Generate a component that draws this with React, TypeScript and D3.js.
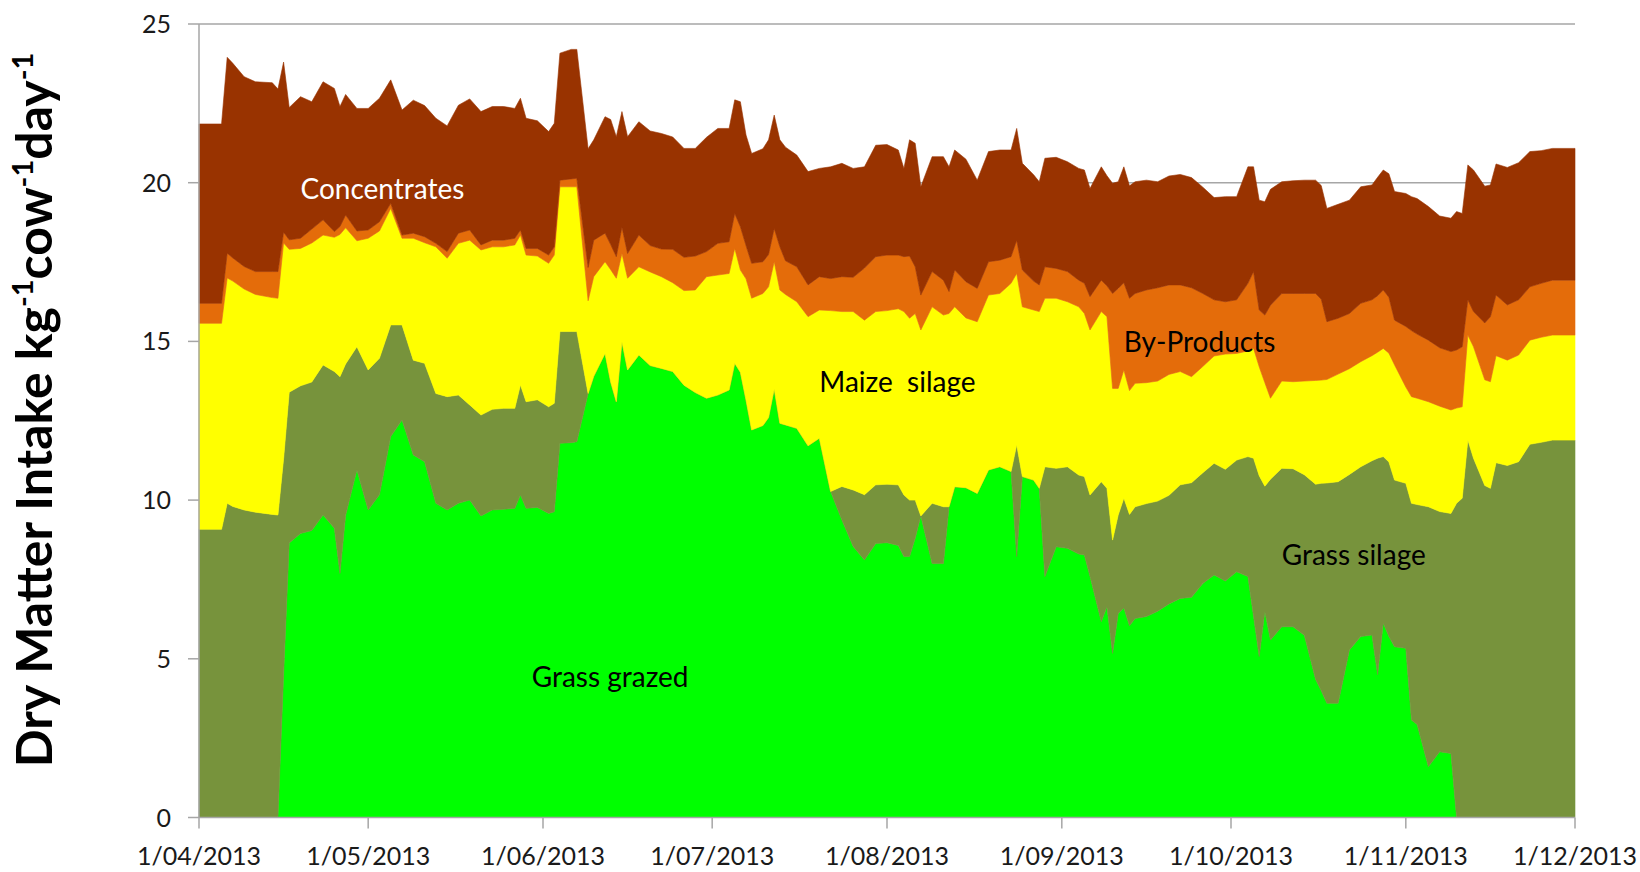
import React from 'react';
import * as d3 from 'd3';

// sampled days (Apr - Dec 2013)
const dates = [
  '2013-04-01', '2013-04-05', '2013-04-06', '2013-04-07', '2013-04-09', '2013-04-11', '2013-04-14', '2013-04-15', '2013-04-16', '2013-04-17',
  '2013-04-19', '2013-04-21', '2013-04-23', '2013-04-25', '2013-04-26', '2013-04-27', '2013-04-29', '2013-05-01', '2013-05-03', '2013-05-05',
  '2013-05-07', '2013-05-09', '2013-05-11', '2013-05-13', '2013-05-15', '2013-05-17', '2013-05-19', '2013-05-21', '2013-05-23', '2013-05-25',
  '2013-05-27', '2013-05-28', '2013-05-29', '2013-05-31', '2013-06-02', '2013-06-03', '2013-06-04', '2013-06-06', '2013-06-07', '2013-06-09',
  '2013-06-10', '2013-06-12', '2013-06-13', '2013-06-14', '2013-06-15', '2013-06-16', '2013-06-18', '2013-06-20', '2013-06-22', '2013-06-24',
  '2013-06-26', '2013-06-28', '2013-06-30', '2013-07-02', '2013-07-04', '2013-07-05', '2013-07-06', '2013-07-07', '2013-07-08', '2013-07-10',
  '2013-07-11', '2013-07-12', '2013-07-13', '2013-07-14', '2013-07-16', '2013-07-18', '2013-07-20', '2013-07-22', '2013-07-24', '2013-07-26',
  '2013-07-28', '2013-07-30', '2013-08-01', '2013-08-03', '2013-08-04', '2013-08-05', '2013-08-06', '2013-08-07', '2013-08-09', '2013-08-11',
  '2013-08-12', '2013-08-13', '2013-08-15', '2013-08-17', '2013-08-19', '2013-08-21', '2013-08-23', '2013-08-24', '2013-08-25', '2013-08-27',
  '2013-08-28', '2013-08-29', '2013-08-31', '2013-09-02', '2013-09-04', '2013-09-05', '2013-09-06', '2013-09-08', '2013-09-09', '2013-09-10',
  '2013-09-11', '2013-09-12', '2013-09-13', '2013-09-14', '2013-09-16', '2013-09-18', '2013-09-20', '2013-09-22', '2013-09-24', '2013-09-26',
  '2013-09-28', '2013-09-30', '2013-10-02', '2013-10-04', '2013-10-05', '2013-10-06', '2013-10-07', '2013-10-08', '2013-10-10', '2013-10-12',
  '2013-10-14', '2013-10-16', '2013-10-17', '2013-10-18', '2013-10-20', '2013-10-22', '2013-10-24', '2013-10-26', '2013-10-27', '2013-10-28',
  '2013-10-29', '2013-10-30', '2013-11-01', '2013-11-02', '2013-11-03', '2013-11-05', '2013-11-07', '2013-11-09', '2013-11-10', '2013-11-11',
  '2013-11-12', '2013-11-13', '2013-11-15', '2013-11-16', '2013-11-17', '2013-11-19', '2013-11-21', '2013-11-23', '2013-11-25', '2013-11-27',
  '2013-12-01',
];

// kg DM per cow per day, one value per date, bottom layer first
const grassGrazed = [
  0, 0, 0, 0, 0, 0, 0, 0, 4.5, 8.65,
  8.95, 9.04, 9.53, 9.11, 7.69, 9.52, 10.95, 9.69, 10.17, 12.0,
  12.52, 11.42, 11.21, 9.9, 9.69, 9.9, 10.0, 9.5, 9.69, 9.71,
  9.74, 10.16, 9.74, 9.77, 9.58, 9.63, 11.79, 11.81, 11.84, 13.36,
  13.9, 14.62, 13.72, 13.1, 14.99, 14.1, 14.57, 14.24, 14.15, 14.05,
  13.62, 13.39, 13.21, 13.31, 13.47, 14.31, 14.03, 13.15, 12.21, 12.35,
  12.6, 13.5, 12.42, 12.37, 12.26, 11.71, 11.95, 10.27, 9.37, 8.54,
  8.11, 8.63, 8.66, 8.57, 8.22, 8.22, 8.8, 9.5, 8.0, 8.0,
  9.79, 10.42, 10.39, 10.21, 10.95, 11.05, 10.9, 8.22, 10.74, 10.63,
  10.37, 7.59, 8.53, 8.48, 8.3, 8.27, 7.59, 6.17, 6.64, 5.17,
  6.43, 6.6, 6.04, 6.27, 6.33, 6.5, 6.73, 6.9, 6.94, 7.37,
  7.64, 7.45, 7.74, 7.59, 6.33, 5.07, 6.48, 5.59, 6.01, 6.01,
  5.74, 4.35, 3.99, 3.6, 3.6, 5.28, 5.7, 5.75, 4.5, 6.12,
  5.7, 5.38, 5.33, 3.07, 2.93, 1.6, 2.07, 2.02, 0, 0,
  0, 0, 0, 0, 0, 0, 0, 0, 0, 0,
  0,
];

const grassSilage = [
  9.08, 9.08, 9.9, 9.8, 9.69, 9.62, 9.55, 9.53, 6.8, 4.75,
  4.65, 4.68, 4.73, 4.94, 6.2, 4.77, 3.88, 4.41, 4.3, 3.52,
  3.0, 2.99, 3.1, 3.46, 3.57, 3.41, 3.0, 3.18, 3.17, 3.18,
  3.15, 3.47, 3.36, 3.39, 3.36, 3.42, 3.52, 3.5, 3.47, 0,
  0, 0, 0, 0, 0, 0, 0, 0, 0, 0,
  0, 0, 0, 0, 0, 0, 0, 0, 0, 0,
  0, 0, 0, 0, 0, 0, 0, 0, 1.06, 1.78,
  2.06, 1.85, 1.84, 1.91, 1.94, 1.78, 1.2, 0, 1.9, 1.79,
  0, 0, 0, 0, 0, 0, 0, 3.52, 0, 0,
  0, 3.46, 2.47, 2.57, 2.49, 2.47, 2.57, 4.41, 3.73, 3.57,
  3.1, 3.46, 3.51, 3.52, 3.56, 3.47, 3.42, 3.58, 3.61, 3.49,
  3.52, 3.52, 3.52, 3.78, 4.99, 5.7, 3.96, 5.07, 4.99, 4.98,
  5.06, 6.15, 6.54, 6.94, 6.98, 5.53, 5.35, 5.49, 6.82, 5.25,
  5.5, 5.25, 5.2, 6.83, 6.93, 8.19, 7.57, 7.56, 9.9, 10.06,
  11.89, 11.32, 10.46, 10.37, 11.18, 11.09, 11.21, 11.76, 11.82, 11.89,
  11.89,
];

const maizeSilage = [
  6.49, 6.49, 7.1, 7.1, 6.96, 6.86, 6.83, 6.83, 6.8, 4.5,
  4.33, 4.38, 4.09, 4.23, 4.48, 4.29, 3.34, 4.15, 4.01, 3.67,
  2.73, 3.84, 3.8, 4.62, 4.36, 4.78, 5.19, 5.2, 5.12, 5.09,
  5.15, 4.72, 4.62, 4.53, 4.52, 4.67, 4.56, 4.56, 4.56, 2.92,
  3.14, 2.89, 3.54, 3.89, 2.78, 2.89, 2.78, 2.95, 2.89, 2.8,
  2.98, 3.23, 3.83, 3.78, 3.67, 3.62, 3.22, 3.82, 4.15, 4.16,
  4.12, 4.01, 4.2, 4.11, 3.99, 4.07, 4.04, 5.7, 5.51, 5.62,
  5.5, 5.46, 5.47, 5.55, 5.78, 5.73, 5.88, 5.86, 6.19, 6.04,
  6.09, 5.67, 5.35, 5.41, 5.51, 5.46, 5.93, 5.4, 5.35, 5.36,
  5.57, 5.31, 5.36, 5.2, 5.3, 5.14, 5.2, 5.36, 5.41, 4.78,
  3.99, 4.04, 3.9, 3.89, 3.81, 3.78, 3.81, 3.57, 3.34, 3.35,
  3.38, 3.63, 3.36, 3.33, 3.46, 3.43, 3.26, 2.55, 2.75, 2.74,
  2.95, 3.27, 3.25, 3.26, 3.39, 3.33, 3.31, 3.31, 3.34, 3.41,
  3.43, 3.63, 3.03, 3.36, 3.35, 3.31, 3.32, 3.26, 3.0, 2.88,
  3.31, 3.51, 3.33, 3.36, 3.37, 3.32, 3.36, 3.28, 3.31, 3.31,
  3.31,
];

const byProducts = [
  0.63, 0.63, 0.78, 0.73, 0.71, 0.72, 0.82, 0.84, 0.34, 0.3,
  0.32, 0.44, 0.48, 0.18, 0.25, 0.4, 0.31, 0.26, 0.29, 0.16,
  0.1, 0.16, 0.19, 0.11, 0.21, 0.32, 0.32, 0.16, 0.21, 0.21,
  0.21, 0.16, 0.21, 0.24, 0.26, 0.26, 0.21, 0.25, 0.27, 1.05,
  1.15, 0.9, 0.79, 0.68, 0.83, 0.78, 1.0, 0.83, 0.87, 1.05,
  1.05, 1.07, 0.79, 1.0, 1.0, 1.1, 1.36, 1.05, 1.1, 1.0,
  1.02, 1.05, 1.36, 1.06, 1.1, 1.0, 1.05, 1.01, 1.1, 1.08,
  1.64, 1.73, 1.75, 1.69, 1.73, 1.96, 1.47, 1.1, 1.11, 1.1,
  0.69, 1.16, 1.14, 1.05, 1.05, 1.05, 0.84, 1.05, 1.16, 0.91,
  0.84, 0.99, 0.94, 0.95, 0.84, 0.95, 1.05, 0.99, 0.97, 2.99,
  3.15, 2.75, 2.91, 2.83, 2.92, 2.94, 2.82, 2.73, 2.8, 2.3,
  1.77, 1.65, 1.69, 2.13, 2.42, 1.79, 2.13, 2.93, 2.76, 2.78,
  2.76, 2.74, 2.55, 1.82, 1.76, 1.74, 1.84, 1.76, 1.78, 1.84,
  1.76, 1.41, 1.91, 2.08, 2.02, 1.94, 1.84, 1.84, 1.83, 1.89,
  1.11, 1.11, 1.79, 2.05, 1.91, 1.74, 1.74, 1.68, 1.7, 1.73,
  1.73,
];

const concentrates = [
  5.65, 5.65, 6.17, 6.13, 5.98, 5.98, 5.95, 5.75, 5.36, 4.17,
  4.46, 4.01, 4.35, 4.51, 3.78, 3.8, 3.86, 3.83, 3.89, 3.89,
  3.94, 4.19, 4.13, 3.94, 3.96, 4.03, 4.13, 4.2, 4.21, 4.21,
  4.09, 4.15, 4.1, 4.02, 3.89, 3.89, 4.0, 4.08, 4.06, 3.74,
  3.16, 3.67, 3.94, 3.78, 3.64, 3.68, 3.57, 3.61, 3.64, 3.54,
  3.43, 3.39, 3.6, 3.62, 3.57, 3.58, 3.94, 3.48, 3.46, 3.56,
  3.61, 3.57, 3.37, 3.58, 3.52, 3.57, 3.41, 3.52, 3.57, 3.43,
  3.19, 3.51, 3.48, 3.31, 2.78, 3.66, 3.89, 3.41, 3.62, 3.89,
  3.93, 3.78, 3.86, 3.41, 3.47, 3.47, 3.36, 3.52, 3.36, 3.35,
  3.25, 3.42, 3.5, 3.46, 3.52, 3.57, 3.41, 3.57, 3.47, 3.47,
  3.36, 3.65, 3.54, 3.52, 3.46, 3.34, 3.43, 3.48, 3.47, 3.35,
  3.22, 3.31, 3.25, 3.67, 3.3, 3.46, 3.57, 3.65, 3.52, 3.55,
  3.57, 3.57, 3.58, 3.57, 3.59, 3.57, 3.67, 3.62, 3.73, 3.78,
  3.89, 4.05, 4.19, 4.22, 4.27, 4.21, 4.15, 4.2, 4.36, 4.2,
  4.25, 4.46, 4.31, 4.15, 4.13, 4.33, 4.32, 4.26, 4.18, 4.15,
  4.15,
];

const layerKeys = ['grassGrazed', 'grassSilage', 'maizeSilage', 'byProducts', 'concentrates'];
const layerColors = ['#00ff00', '#77933c', '#ffff00', '#e46c0a', '#993300'];

const yTicks = [0, 5, 10, 15, 20, 25];
const xTickDates = [
  '2013-04-01', '2013-05-01', '2013-06-01', '2013-07-01', '2013-08-01',
  '2013-09-01', '2013-10-01', '2013-11-01', '2013-12-01',
];

// in-chart labels: text, start date, baseline value
const labelTexts = ['Concentrates', 'Maize  silage', 'By-Products', 'Grass silage', 'Grass grazed'];
const labelDates = ['2013-04-19', '2013-07-20', '2013-09-12', '2013-10-10', '2013-05-30'];
const labelValues = [19.5, 13.42, 14.68, 7.96, 4.11];
const labelColors = ['#ffffff', '#000000', '#000000', '#000000', '#000000'];

const W = 1640;
const H = 872;
const margin = { top: 24, right: 65, bottom: 54.5, left: 199 };
const font = 'Lato, "Open Sans", sans-serif';

export default function App() {
  const parse = d3.utcParse('%Y-%m-%d');
  const rows = dates.map((d, i) => ({
    date: parse(d),
    grassGrazed: grassGrazed[i],
    grassSilage: grassSilage[i],
    maizeSilage: maizeSilage[i],
    byProducts: byProducts[i],
    concentrates: concentrates[i],
  }));

  const x = d3.scaleUtc()
    .domain([parse('2013-04-01'), parse('2013-12-01')])
    .range([margin.left, W - margin.right]);
  const y = d3.scaleLinear().domain([0, 25]).range([H - margin.bottom, margin.top]);

  const series = d3.stack().keys(layerKeys)(rows as any);
  const area = d3.area<any>()
    .x(d => x(d.data.date))
    .y0(d => y(d[0]))
    .y1(d => y(d[1]));

  const fmt = d3.utcFormat('%-d/%m/%Y');
  const x0 = margin.left;
  const x1 = W - margin.right;
  const yBase = y(0);

  return (
    <svg width={W} height={H} style={{ position: 'absolute', left: 0, top: 0, background: '#fff' }}>
      {/* gridlines */}
      {yTicks.filter(t => t > 0).map(t => (
        <line key={'g' + t} x1={x0} x2={x1} y1={y(t)} y2={y(t)} stroke="#a6a6a6" strokeWidth={1.5} />
      ))}

      {series.map((s, i) => (
        <path key={s.key} d={area(s) || ''} fill={layerColors[i]} stroke={layerColors[i]} strokeWidth={0.6} />
      ))}

      {/* y axis */}
      <line x1={x0} x2={x0} y1={y(25)} y2={yBase} stroke="#a6a6a6" strokeWidth={1.5} />
      {yTicks.map(t => (
        <g key={'y' + t}>
          <line x1={x0 - 11} x2={x0} y1={y(t)} y2={y(t)} stroke="#a6a6a6" strokeWidth={1.5} />
          <text x={x0 - 28} y={y(t)} dy="0.36em" textAnchor="end" fontFamily={font} fontSize={25} fill="#1a1a1a">
            {t}
          </text>
        </g>
      ))}

      {/* x axis */}
      <line x1={x0} x2={x1} y1={yBase} y2={yBase} stroke="#a6a6a6" strokeWidth={1.5} />
      {xTickDates.map(d => {
        const xp = x(parse(d) as Date);
        return (
          <g key={d}>
            <line x1={xp} x2={xp} y1={yBase} y2={yBase + 11} stroke="#a6a6a6" strokeWidth={1.5} />
            <text x={xp} y={865} textAnchor="middle" fontFamily={font} fontSize={25} fill="#1a1a1a">
              {fmt(parse(d) as Date)}
            </text>
          </g>
        );
      })}

      {/* in-chart labels */}
      {labelTexts.map((t, i) => (
        <text
          key={t}
          x={x(parse(labelDates[i]) as Date)}
          y={y(labelValues[i])}
          fontFamily={font}
          fontSize={28}
          fill={labelColors[i]}
          style={{ whiteSpace: 'pre' }}
        >
          {t}
        </text>
      ))}

      {/* y title */}
      <text
        transform="translate(52,410) rotate(-90)"
        textAnchor="middle"
        fontFamily={font}
        fontWeight="bold"
        fontSize={50}
        fill="#000"
      >
        Dry Matter Intake kg
        <tspan dy={-19} fontSize={29}>-1</tspan>
        <tspan dy={19}>cow</tspan>
        <tspan dy={-19} fontSize={29}>-1</tspan>
        <tspan dy={19}>day</tspan>
        <tspan dy={-19} fontSize={29}>-1</tspan>
      </text>
    </svg>
  );
}
